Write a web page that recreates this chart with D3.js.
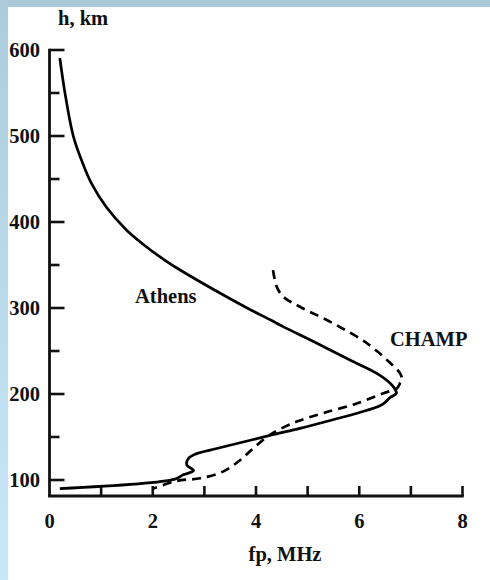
<!DOCTYPE html>
<html>
<head>
<meta charset="utf-8">
<script src="https://cdn.jsdelivr.net/npm/d3@7"></script>
<style>
  html, body { margin: 0; padding: 0; background: #ffffff; }
  svg { display: block; }
  text { font-family: "Liberation Serif", "Times New Roman", serif; font-weight: bold; fill: #111; }
</style>
</head>
<body>
<svg id="chart" width="490" height="580"></svg>
<script>
// ---- data (fp in MHz, h in km) ----
const athensFp = [0.20, 0.30, 0.465, 0.67, 0.81, 1.10, 1.49, 1.83, 2.23, 2.53, 3.30, 3.90, 4.285, 4.525, 5.18, 5.82, 6.34, 6.60, 6.70, 6.72, 6.60, 6.45, 6.15, 5.49, 4.85, 4.34, 3.89, 3.24, 2.82, 2.69, 2.66, 2.79, 2.59, 2.43, 0.20];
const athensH  = [590.7, 550, 499, 464.3, 445.3, 417.4, 390.7, 373.3, 355.8, 344.2, 317.4, 297.7, 286, 278.3, 259, 239.5, 224, 212.4, 204.7, 200.8, 196, 188, 181, 170, 160, 152.9, 146.2, 136.6, 130, 125, 117.5, 111, 106, 101, 90];

const champFp = [4.33, 4.40, 4.53, 4.85, 5.50, 6.15, 6.60, 6.79, 6.83, 6.79, 6.73, 6.47, 5.95, 5.31, 4.82, 4.47, 4.21, 3.95, 3.69, 3.37, 2.92, 2.47, 2.01];
const champH  = [344, 325, 313, 301.5, 282, 259, 236, 224, 216, 212.5, 206.5, 201, 189, 177.9, 168.6, 159.3, 150, 137, 123, 110, 102, 99, 90];

const xTicks = [0, 1, 2, 3, 4, 5, 6, 7, 8];
const xTickLabels = ["0", "", "2", "", "4", "", "6", "", "8"];
const yTicks = [100, 150, 200, 250, 300, 350, 400, 450, 500, 550, 600];
const yTickLabels = ["100", "", "200", "", "300", "", "400", "", "500", "", "600"];

const labels = { x: "fp, MHz", y: "h, km", athens: "Athens", champ: "CHAMP" };

// ---- drawing ----
const svg = d3.select("#chart");
const FS = 20.5;

// decorative background strips
const defs = svg.append("defs");
const grad = defs.append("linearGradient").attr("id", "leftGrad")
  .attr("x1", 0).attr("y1", 0).attr("x2", 0).attr("y2", 1);
grad.append("stop").attr("offset", "0%").attr("stop-color", "#acccdc");
grad.append("stop").attr("offset", "100%").attr("stop-color", "#c8e7f9");
svg.append("rect").attr("x", 0).attr("y", 0).attr("width", 490).attr("height", 580).attr("fill", "#ffffff");
svg.append("rect").attr("x", 0).attr("y", 0).attr("width", 490).attr("height", 7).attr("fill", "#a9c8d8");
svg.append("rect").attr("x", 0).attr("y", 0).attr("width", 8).attr("height", 580).attr("fill", "url(#leftGrad)");

const x = d3.scaleLinear().domain([0, 8]).range([49.5, 462.5]);
const y = d3.scaleLinear().domain([81.4, 600]).range([496, 50]);

const axisColor = "#111";
const g = svg.append("g");

// axis lines
g.append("line")
  .attr("x1", x(0)).attr("x2", x(0))
  .attr("y1", y(600) - 1.3).attr("y2", y(81.4))
  .attr("stroke", axisColor).attr("stroke-width", 2.8);
g.append("line")
  .attr("x1", x(0) - 1.4).attr("x2", x(8) + 1.3)
  .attr("y1", y(81.4)).attr("y2", y(81.4))
  .attr("stroke", axisColor).attr("stroke-width", 2.8);

// y ticks (pointing right)
yTicks.forEach((t, i) => {
  const major = yTickLabels[i] !== "";
  g.append("line")
    .attr("x1", x(0)).attr("x2", x(0) + (major ? 15 : 10))
    .attr("y1", y(t)).attr("y2", y(t))
    .attr("stroke", axisColor).attr("stroke-width", 2.6);
  if (major) {
    g.append("text")
      .attr("x", 40).attr("y", y(t) + 7)
      .attr("text-anchor", "end")
      .attr("font-size", FS)
      .text(yTickLabels[i]);
  }
});

// x ticks (pointing up)
xTicks.forEach((t, i) => {
  if (t > 0) {
    g.append("line")
      .attr("x1", x(t)).attr("x2", x(t))
      .attr("y1", y(81.4)).attr("y2", y(81.4) - 10)
      .attr("stroke", axisColor).attr("stroke-width", 2.6);
  }
  if (xTickLabels[i] !== "") {
    g.append("text")
      .attr("x", x(t)).attr("y", 528)
      .attr("text-anchor", "middle")
      .attr("font-size", FS)
      .text(xTickLabels[i]);
  }
});

// axis titles
g.append("text").attr("x", 58).attr("y", 25).attr("font-size", FS).text(labels.y);
g.append("text").attr("x", 285).attr("y", 561).attr("text-anchor", "middle").attr("font-size", FS).text(labels.x);

// curves
const line = d3.line()
  .x(d => x(d[0]))
  .y(d => y(d[1]))
  .curve(d3.curveCatmullRom.alpha(0.5));

const athens = athensFp.map((v, i) => [v, athensH[i]]);
const champ = champFp.map((v, i) => [v, champH[i]]);

g.append("path").datum(athens)
  .attr("d", line)
  .attr("fill", "none").attr("stroke", "#000").attr("stroke-width", 2.7)
  .attr("stroke-linejoin", "round");

g.append("path").datum(champ)
  .attr("d", line)
  .attr("fill", "none").attr("stroke", "#000").attr("stroke-width", 2.7)
  .attr("stroke-dasharray", "9,6");

// curve labels
g.append("text").attr("x", 135).attr("y", 303).attr("font-size", FS).text(labels.athens);
g.append("text").attr("x", 390).attr("y", 346).attr("font-size", FS).text(labels.champ);
</script>
</body>
</html>
